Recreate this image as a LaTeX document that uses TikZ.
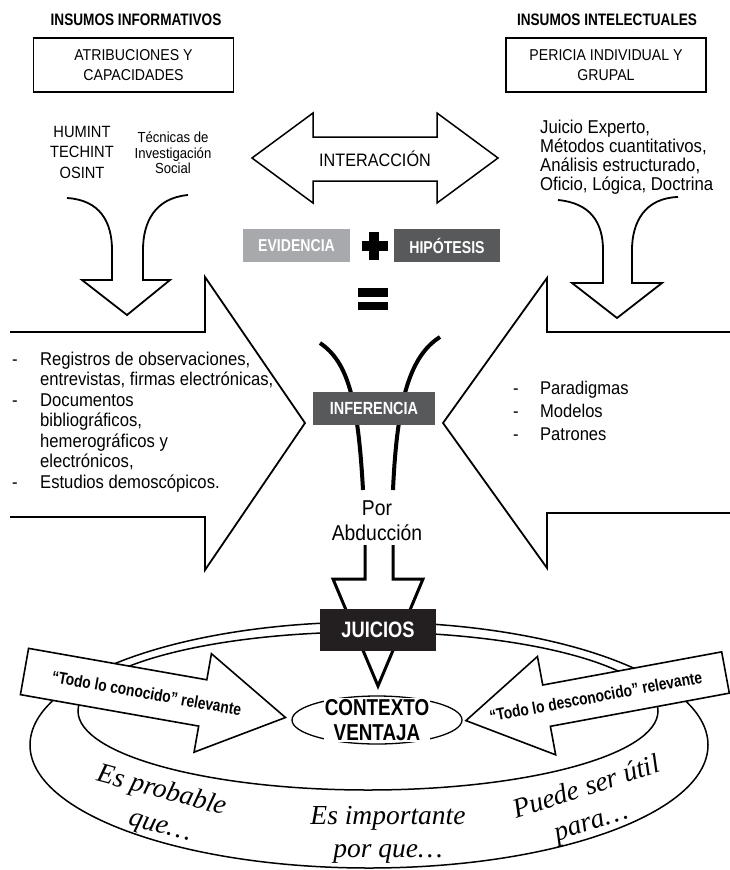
\documentclass[tikz,border=0pt]{standalone}
\usepackage{fontspec}
\setmainfont{Liberation Sans}[FakeStretch=0.9]
\newfontfamily\condfont{Liberation Sans}[FakeStretch=0.82]
\newfontfamily\seriffont{Liberation Serif}
\usetikzlibrary{shapes.geometric}
\definecolor{evgray}{HTML}{A7A9AC}
\definecolor{hipgray}{HTML}{58595B}
\definecolor{darkbox}{HTML}{231F20}

\begin{document}
\begin{tikzpicture}[x=1pt,y=-1pt,
  heading/.style={font=\condfont\bfseries\fontsize{16.6}{18}\selectfont},
  inputbox/.style={draw,line width=1.1pt,minimum width=200pt,minimum height=54pt,inner sep=0pt,align=center,font=\fontsize{15.7}{20}\selectfont},
  tagbox/.style={fill=#1,text=white,inner sep=0pt,minimum height=33pt,font=\condfont\bfseries\fontsize{17.2}{18}\selectfont},
  blockarrow/.style={draw,line width=1.8pt,fill=white,line join=miter,miter limit=10},
  curvearrow/.style={draw,line width=1.8pt,line join=miter},
  tube/.style={line width=4pt},
  ring/.style={draw,ellipse,line width=1.5pt,inner sep=0pt},
  arrowtext/.style={font=\condfont\bfseries\fontsize{16.8}{18}\selectfont,transform shape,inner sep=0pt},
  phrase/.style={align=center,inner sep=0pt,font=\seriffont\itshape\fontsize{27.5}{#1}\selectfont}
]
\useasboundingbox (0,0) rectangle (730,870);

\node[heading] (informativos) at (136,20) {INSUMOS INFORMATIVOS};
\node[heading] (intelectuales) at (607,20) {INSUMOS INTELECTUALES};
\node[inputbox] (atribuciones) at (133.5,65) {ATRIBUCIONES Y\\CAPACIDADES};
\node[inputbox] (pericia) at (606,65) {PERICIA INDIVIDUAL Y\\GRUPAL};

\node[align=center,inner sep=0pt,font=\fontsize{16.3}{20.5}\selectfont] (fuentes) at (82,152) {HUMINT\\TECHINT\\OSINT};
\node[align=center,inner sep=0pt,font=\fontsize{14.6}{15.5}\selectfont] (tecnicas) at (173,153) {Técnicas de\\Investigación\\Social};
\node[anchor=west,align=left,inner sep=0pt,font=\fontsize{18.6}{19}\selectfont] (metodos) at (540,157) {Juicio Experto,\\Métodos cuantitativos,\\Análisis estructurado,\\Oficio, Lógica, Doctrina};

\draw[blockarrow,line width=1.5pt] (252,158) -- (313,113) -- (313,137) -- (437,137) -- (437,113) -- (498,158) -- (437,203) -- (437,181) -- (313,181) -- (313,203) -- cycle;
\node[font=\fontsize{18}{20}\selectfont] (interaccion) at (375,159) {INTERACCIÓN};

\draw[curvearrow] (67,198) .. controls (100,200) and (112,222) .. (112,250) -- (112,280) -- (82,280) -- (127,315) -- (170,280) -- (143,280) -- (143,250) .. controls (143,222) and (155,198) .. (188,195);
\draw[curvearrow] (558,200) .. controls (590,203) and (603,222) .. (603,250) -- (603,283) -- (572,283) -- (617,318) -- (662,283) -- (632,283) -- (632,250) .. controls (632,222) and (645,198) .. (678,197);

\node[tagbox=evgray,minimum width=107pt] (evidencia) at (296.5,245.5) {EVIDENCIA};
\node[tagbox=hipgray,minimum width=106pt] (hipotesis) at (447,245.5) {HIPÓTESIS};
\fill (362,241) rectangle (388,251);
\fill (369,232) rectangle (379,260);
\fill (358,288) rectangle (388,297);
\fill (358,302) rectangle (388,310);

\draw[blockarrow] (10,332) -- (205,332) -- (205,277) -- (305,423) -- (205,570) -- (205,517) -- (10,517);
\draw[blockarrow] (730,332) -- (547,332) -- (547,278) -- (443,423) -- (547,568) -- (547,513) -- (730,513);
\node[anchor=west,align=left,inner sep=0pt,font=\fontsize{18.5}{20.5}\selectfont] (registros) at (12,422) {\makebox[28pt][l]{-}Registros de observaciones,\\\hspace*{28pt}entrevistas, firmas electrónicas,\\\makebox[28pt][l]{-}Documentos\\\hspace*{28pt}bibliográficos,\\\hspace*{28pt}hemerográficos y\\\hspace*{28pt}electrónicos,\\\makebox[28pt][l]{-}Estudios demoscópicos.};
\node[anchor=west,align=left,inner sep=0pt,font=\fontsize{18.4}{23}\selectfont] (patrones) at (513,411) {\makebox[27pt][l]{-}Paradigmas\\\makebox[27pt][l]{-}Modelos\\\makebox[27pt][l]{-}Patrones};

\draw[tube] (320,343) .. controls (348,362) and (358,400) .. (363,490);
\draw[tube] (440,337) .. controls (410,356) and (397,400) .. (393,490);
\node[tagbox=hipgray,minimum width=122pt,font=\condfont\bfseries\fontsize{17.6}{18}\selectfont] (inferencia) at (374,408.5) {INFERENCIA};
\node[align=center,inner sep=0pt,font=\fontsize{21.5}{25}\selectfont] (abduccion) at (377,521) {Por\\Abducción};

\node[ring,minimum width=678pt,minimum height=246pt] (outerring) at (369,745) {};
\node[ring,minimum width=580pt,minimum height=158pt] (innerring) at (368,711) {};

\draw[line width=3pt,fill=white,line join=miter] (365,545) -- (365,579) -- (333,579) -- (378,686) -- (423,579) -- (393,579) -- (393,545);
\node[tagbox=darkbox,minimum width=116pt,minimum height=42pt,font=\condfont\bfseries\fontsize{22.3}{24}\selectfont] (juicios) at (378,630) {JUICIOS};

\begin{scope}[shift={(24.5,671.5)},rotate=-10]
\draw[blockarrow,line width=1.6pt] (0,-23.5) -- (181,-23.5) -- (181,-50) -- (265,0) -- (181,50) -- (181,23.5) -- (0,23.5) -- cycle;
\node[arrowtext] (conocido) at (124,0) {“Todo lo conocido” relevante};
\end{scope}
\begin{scope}[shift={(725.5,672.5)},rotate=10.5]
\draw[blockarrow,line width=1.6pt] (0,-21) -- (-182,-21) -- (-182,-50) -- (-264,0) -- (-182,50) -- (-182,21) -- (0,21) -- cycle;
\node[arrowtext] (desconocido) at (-132,0) {“Todo lo desconocido” relevante};
\end{scope}

\node[ring,line width=1.3pt,minimum width=170pt,minimum height=48pt] (ctxring) at (377,720) {};
\node[fill=white,inner sep=1pt,align=center,font=\condfont\bfseries\fontsize{23}{25}\selectfont] (contexto) at (ctxring.center) {CONTEXTO\\VENTAJA};

\node[phrase=34,rotate=-15] (probable) at (157,808) {Es probable\\\hspace*{16pt}que\ldots};
\node[phrase=33] (importante) at (388,834.5) {Es importante\\por que\ldots};
\node[phrase=34,rotate=18] (util) at (592,805) {Puede ser útil\\para\ldots\hspace*{12pt}};
\end{tikzpicture}
\end{document}
